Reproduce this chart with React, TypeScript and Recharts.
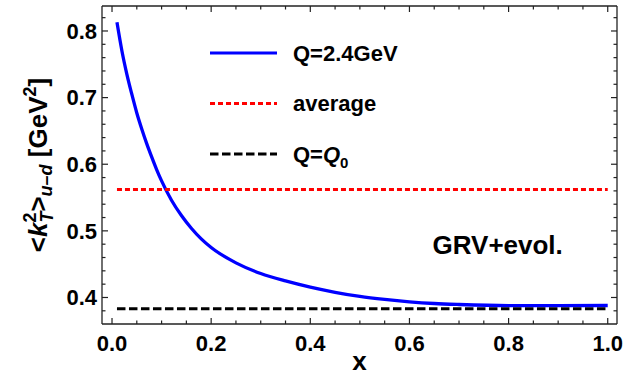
import { LineChart, Line, XAxis, YAxis, Legend, ReferenceDot, ReferenceLine } from "recharts";

// <k_T^2>_{u-d} evolved to Q = 2.4 GeV, sampled in x
const X_POINTS = [
  0.01, 0.02, 0.03, 0.04, 0.05, 0.06, 0.07, 0.08, 0.09, 0.1, 0.12, 0.14, 0.16,
  0.18, 0.2, 0.25, 0.3, 0.35, 0.4, 0.45, 0.5, 0.55, 0.6, 0.65, 0.7, 0.8, 0.9,
  1.0,
];
const KT2_EVOLVED = [
  0.813, 0.77, 0.735, 0.705, 0.677, 0.653, 0.631, 0.611, 0.592, 0.575, 0.546,
  0.523, 0.504, 0.488, 0.475, 0.452, 0.436, 0.4248, 0.4155, 0.4078, 0.4015,
  0.397, 0.3935, 0.391, 0.3895, 0.3878, 0.3877, 0.388,
];
const X_RANGE = [0.01, 1.0];
const KT2_AVERAGE = 0.562;
const KT2_Q0 = 0.383;

const LEGEND_ORDER = ["Q=2.4GeV", "average", "Q=Q0"];

const X_MAJOR = [0, 0.2, 0.4, 0.6, 0.8, 1.0];
const X_MINOR = [
  0, 0.05, 0.1, 0.15, 0.2, 0.25, 0.3, 0.35, 0.4, 0.45, 0.5, 0.55, 0.6, 0.65,
  0.7, 0.75, 0.8, 0.85, 0.9, 0.95, 1.0,
];
const Y_MAJOR = [0.4, 0.5, 0.6, 0.7, 0.8];
const Y_MINOR = [
  0.38, 0.4, 0.42, 0.44, 0.46, 0.48, 0.5, 0.52, 0.54, 0.56, 0.58, 0.6, 0.62,
  0.64, 0.66, 0.68, 0.7, 0.72, 0.74, 0.76, 0.78, 0.8, 0.82,
];

const X_DOMAIN: [number, number] = [-0.0202, 1.0187];
const Y_DOMAIN: [number, number] = [0.3602, 0.8375];

const evolvedData = X_POINTS.map((x, i) => ({ x, y: KT2_EVOLVED[i] }));
const averageData = X_RANGE.map((x) => ({ x, y: KT2_AVERAGE }));
const q0Data = X_RANGE.map((x) => ({ x, y: KT2_Q0 }));

const FONT = "'Liberation Sans', Arial, sans-serif";
const FRAME = "#222";

// chart box and plot offsets
const WIDTH = 641;
const HEIGHT = 383;
const LEFT = 102;
const RIGHT = 24;
const TOP = 6;
const BOTTOM = 59;

// frame tick lengths in pixels, converted to axis units
const MAJOR_LEN = 6;
const MINOR_LEN = 3.5;
const xPerPx = (X_DOMAIN[1] - X_DOMAIN[0]) / (WIDTH - LEFT - RIGHT);
const yPerPx = (Y_DOMAIN[1] - Y_DOMAIN[0]) / (HEIGHT - TOP - BOTTOM);

function FrameLabel(props: any) {
  const { x, y, payload, side } = props;
  return (
    <text
      x={x}
      y={y}
      dy={side === "bottom" ? "0.71em" : "0.355em"}
      textAnchor={side === "bottom" ? "middle" : "end"}
      fontFamily={FONT}
      fontWeight="bold"
      fontSize={22}
      fill="#000"
    >
      {Number(payload.value).toFixed(1)}
    </text>
  );
}

function YTitle(props: any) {
  const vb = props.viewBox || { x: 0, y: 0, width: 0, height: 0 };
  const x = vb.x + 47;
  const y = vb.y + vb.height / 2;
  return (
    <text
      x={x}
      y={y}
      transform={`rotate(-90, ${x}, ${y})`}
      textAnchor="middle"
      fontFamily={FONT}
      fontWeight="bold"
      fontSize={26}
      fill="#000"
    >
      <tspan>&lt;</tspan>
      <tspan fontStyle="italic">k</tspan>
      <tspan fontSize={18} dy={-11}>2</tspan>
      <tspan fontSize={18} fontStyle="italic" dx={-10} dy={17}>T</tspan>
      <tspan dy={-6}>&gt;</tspan>
      <tspan fontSize={18} fontStyle="italic" dy={5}>u–d</tspan>
      <tspan dy={-5}> [GeV</tspan>
      <tspan fontSize={18} dy={-11}>2</tspan>
      <tspan dy={11}>]</tspan>
    </text>
  );
}

function LegendRows(props: any) {
  const payload = [...(props.payload || [])].sort(
    (a: any, b: any) => LEGEND_ORDER.indexOf(a.value) - LEGEND_ORDER.indexOf(b.value)
  );
  return (
    <svg width={260} height={150} style={{ overflow: "visible" }}>
      {payload.map((entry: any, i: number) => {
        const cy = 23 + i * 50.5;
        const dash = entry.payload?.strokeDasharray;
        return (
          <g key={entry.value}>
            <line
              x1={5}
              x2={72}
              y1={cy}
              y2={cy}
              stroke={entry.color}
              strokeWidth={3.2}
              strokeDasharray={dash}
            />
            <text
              x={88}
              y={cy}
              dy="0.36em"
              fontFamily={FONT}
              fontWeight="bold"
              fontSize={22}
              fill="#000"
            >
              {entry.value === "Q=Q0" ? (
                <>
                  <tspan>Q=</tspan>
                  <tspan fontStyle="italic">Q</tspan>
                  <tspan fontSize={15} dy={6}>0</tspan>
                </>
              ) : (
                entry.value
              )}
            </text>
          </g>
        );
      })}
    </svg>
  );
}

// inward tick segments on all four frame sides
function frameTicks() {
  const out: any[] = [];
  X_MINOR.forEach((v) => {
    const len = (X_MAJOR.includes(v) ? MAJOR_LEN : MINOR_LEN) * yPerPx;
    out.push(
      <ReferenceLine key={`b${v}`} xAxisId="main" yAxisId="main" ifOverflow="visible" stroke={FRAME} strokeWidth={1.2}
        segment={[{ x: v, y: Y_DOMAIN[0] }, { x: v, y: Y_DOMAIN[0] + len }]} />,
      <ReferenceLine key={`t${v}`} xAxisId="main" yAxisId="main" ifOverflow="visible" stroke={FRAME} strokeWidth={1.2}
        segment={[{ x: v, y: Y_DOMAIN[1] }, { x: v, y: Y_DOMAIN[1] - len }]} />
    );
  });
  Y_MINOR.forEach((v) => {
    const len = (Y_MAJOR.includes(v) ? MAJOR_LEN : MINOR_LEN) * xPerPx;
    out.push(
      <ReferenceLine key={`l${v}`} xAxisId="main" yAxisId="main" ifOverflow="visible" stroke={FRAME} strokeWidth={1.2}
        segment={[{ x: X_DOMAIN[0], y: v }, { x: X_DOMAIN[0] + len, y: v }]} />,
      <ReferenceLine key={`r${v}`} xAxisId="main" yAxisId="main" ifOverflow="visible" stroke={FRAME} strokeWidth={1.2}
        segment={[{ x: X_DOMAIN[1], y: v }, { x: X_DOMAIN[1] - len, y: v }]} />
    );
  });
  return out;
}

export default function App() {
  const frameLine = { stroke: FRAME, strokeWidth: 1.3 };
  return (
    <div style={{ position: "absolute", left: 0, top: 0, width: WIDTH, height: HEIGHT, background: "#fff" }}>
      <LineChart
        width={WIDTH}
        height={HEIGHT}
        margin={{ top: 0, right: 0, bottom: 0, left: 0 }}
        style={{ fontFamily: FONT }}
      >
        <XAxis
          xAxisId="main"
          dataKey="x"
          type="number"
          domain={X_DOMAIN}
          allowDataOverflow
          ticks={X_MAJOR}
          interval={0}
          tick={(p: any) => <FrameLabel {...p} side="bottom" />}
          tickLine={false}
          tickSize={0}
          tickMargin={11}
          height={BOTTOM}
          axisLine={frameLine}
          label={{
            value: "x",
            position: "insideBottom",
            offset: 13,
            style: { fontSize: 26, fontWeight: "bold", fill: "#000", fontFamily: FONT },
          }}
        />
        <XAxis
          xAxisId="top"
          orientation="top"
          type="number"
          domain={X_DOMAIN}
          allowDataOverflow
          tick={false}
          tickLine={false}
          height={TOP}
          axisLine={frameLine}
        />
        <YAxis
          yAxisId="main"
          type="number"
          domain={Y_DOMAIN}
          allowDataOverflow
          ticks={Y_MAJOR}
          interval={0}
          tick={(p: any) => <FrameLabel {...p} side="left" />}
          tickLine={false}
          tickSize={0}
          tickMargin={5}
          width={LEFT}
          axisLine={frameLine}
          label={<YTitle />}
        />
        <YAxis
          yAxisId="right"
          orientation="right"
          type="number"
          domain={Y_DOMAIN}
          allowDataOverflow
          tick={false}
          tickLine={false}
          width={RIGHT}
          axisLine={frameLine}
        />

        {frameTicks()}

        <Line
          xAxisId="main"
          yAxisId="main"
          data={evolvedData}
          dataKey="y"
          name="Q=2.4GeV"
          type="monotone"
          stroke="#0000ff"
          strokeWidth={3.3}
          dot={false}
          activeDot={false}
          isAnimationActive={false}
        />
        <Line
          xAxisId="main"
          yAxisId="main"
          data={averageData}
          dataKey="y"
          name="average"
          type="linear"
          stroke="#ff0000"
          strokeWidth={3}
          strokeDasharray="5 3"
          dot={false}
          activeDot={false}
          isAnimationActive={false}
        />
        <Line
          xAxisId="main"
          yAxisId="main"
          data={q0Data}
          dataKey="y"
          name="Q=Q0"
          type="linear"
          stroke="#000000"
          strokeWidth={3}
          strokeDasharray="8.5 3.5"
          dot={false}
          activeDot={false}
          isAnimationActive={false}
        />

        <ReferenceDot
          xAxisId="main"
          yAxisId="main"
          x={0.778}
          y={0.4787}
          r={0}
          fill="none"
          stroke="none"
          label={{
            value: "GRV+evol.",
            position: "center",
            style: { fontSize: 26, fontWeight: "bold", fill: "#000", fontFamily: FONT },
          }}
        />

        <Legend
          layout="vertical"
          align="center"
          verticalAlign="middle"
          content={<LegendRows />}
          wrapperStyle={{ left: 205, top: 30, width: 260, height: 150 }}
        />
      </LineChart>
    </div>
  );
}
